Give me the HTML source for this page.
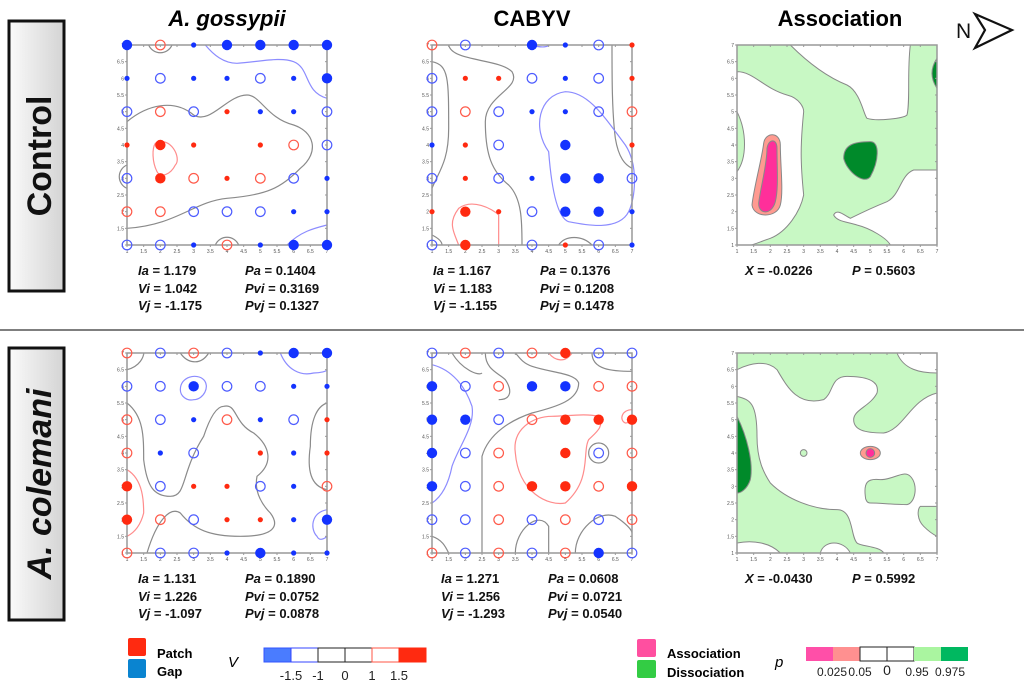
<!DOCTYPE html>
<html><head><meta charset="utf-8">
<style>
body{margin:0;background:#fff;width:1024px;height:691px;overflow:hidden;font-family:"Liberation Sans",sans-serif;}
svg{display:block}
.ct{fill:none;stroke-width:1.2;vector-effect:non-scaling-stroke}
.rg{stroke:#888;stroke-width:1;vector-effect:non-scaling-stroke}
.st{font:bold 13px "Liberation Sans",sans-serif;fill:#111}
.tk{font:5px "Liberation Sans",sans-serif;fill:#555}
</style></head><body>
<svg id="chart" width="1024" height="691" viewBox="0 0 1024 691">
<defs>
<linearGradient id="boxg" x1="0" x2="1"><stop offset="0" stop-color="#fafafa"/><stop offset="1" stop-color="#d4d4d4"/></linearGradient>
</defs>
<g>
<rect x="9" y="21" width="55" height="270" fill="url(#boxg)" stroke="#111" stroke-width="3"/>
<text transform="translate(51,156) rotate(-90)" text-anchor="middle" font-size="34" font-weight="bold" fill="#111">Control</text>
</g>
<g>
<rect x="9" y="348" width="55" height="272" fill="url(#boxg)" stroke="#111" stroke-width="3"/>
<text transform="translate(51,484) rotate(-90)" text-anchor="middle" font-size="34" font-weight="bold" font-style="italic" fill="#111">A. colemani</text>
</g>
<line x1="0" y1="330" x2="1024" y2="330" stroke="#555" stroke-width="1.5"/>
<text x="227" y="26" text-anchor="middle" font-size="22" font-weight="bold" font-style="italic">A. gossypii</text>
<text x="532" y="26" text-anchor="middle" font-size="22" font-weight="bold">CABYV</text>
<text x="840" y="26" text-anchor="middle" font-size="22" font-weight="bold">Association</text>
<g>
<text x="956" y="38" font-size="21" fill="#111">N</text>
<polygon points="975,14 1012,30 975,48 985,30" fill="#fff" stroke="#111" stroke-width="2.2" stroke-linejoin="miter"/>
</g>
<g id="panels"></g>
<g>
<text class="st" x="138" y="275"><tspan font-style="italic">Ia</tspan> = 1.179</text>
<text class="st" x="138" y="293"><tspan font-style="italic">Vi</tspan> = 1.042</text>
<text class="st" x="138" y="310"><tspan font-style="italic">Vj</tspan> = -1.175</text>
<text class="st" x="245" y="275"><tspan font-style="italic">Pa</tspan> = 0.1404</text>
<text class="st" x="245" y="293"><tspan font-style="italic">Pvi</tspan> = 0.3169</text>
<text class="st" x="245" y="310"><tspan font-style="italic">Pvj</tspan> = 0.1327</text>
</g>
<g>
<text class="st" x="433" y="275"><tspan font-style="italic">Ia</tspan> = 1.167</text>
<text class="st" x="433" y="293"><tspan font-style="italic">Vi</tspan> = 1.183</text>
<text class="st" x="433" y="310"><tspan font-style="italic">Vj</tspan> = -1.155</text>
<text class="st" x="540" y="275"><tspan font-style="italic">Pa</tspan> = 0.1376</text>
<text class="st" x="540" y="293"><tspan font-style="italic">Pvi</tspan> = 0.1208</text>
<text class="st" x="540" y="310"><tspan font-style="italic">Pvj</tspan> = 0.1478</text>
</g>
<g>
<text class="st" x="745" y="275"><tspan font-style="italic">X</tspan> = -0.0226</text>
<text class="st" x="852" y="275"><tspan font-style="italic">P</tspan> = 0.5603</text>
</g>
<g>
<text class="st" x="138" y="583"><tspan font-style="italic">Ia</tspan> = 1.131</text>
<text class="st" x="138" y="601"><tspan font-style="italic">Vi</tspan> = 1.226</text>
<text class="st" x="138" y="618"><tspan font-style="italic">Vj</tspan> = -1.097</text>
<text class="st" x="245" y="583"><tspan font-style="italic">Pa</tspan> = 0.1890</text>
<text class="st" x="245" y="601"><tspan font-style="italic">Pvi</tspan> = 0.0752</text>
<text class="st" x="245" y="618"><tspan font-style="italic">Pvj</tspan> = 0.0878</text>
</g>
<g>
<text class="st" x="441" y="583"><tspan font-style="italic">Ia</tspan> = 1.271</text>
<text class="st" x="441" y="601"><tspan font-style="italic">Vi</tspan> = 1.256</text>
<text class="st" x="441" y="618"><tspan font-style="italic">Vj</tspan> = -1.293</text>
<text class="st" x="548" y="583"><tspan font-style="italic">Pa</tspan> = 0.0608</text>
<text class="st" x="548" y="601"><tspan font-style="italic">Pvi</tspan> = 0.0721</text>
<text class="st" x="548" y="618"><tspan font-style="italic">Pvj</tspan> = 0.0540</text>
</g>
<g>
<text class="st" x="745" y="583"><tspan font-style="italic">X</tspan> = -0.0430</text>
<text class="st" x="852" y="583"><tspan font-style="italic">P</tspan> = 0.5992</text>
</g>
<g>
<rect x="128" y="638" width="18" height="18" rx="2" fill="#ff2a10"/>
<text x="157" y="658" font-size="13" font-weight="bold">Patch</text>
</g>
<g>
<rect x="128" y="659" width="18" height="19" rx="2" fill="#0a84d0"/>
<text x="157" y="676" font-size="13" font-weight="bold">Gap</text>
</g>
<text x="228" y="667" font-size="15" font-style="italic">V</text>
<g>
<rect x="264" y="648" width="27" height="14" fill="#4a7cff" stroke="#3355ff"/>
<rect x="291" y="648" width="27" height="14" fill="#fff" stroke="#3344ff"/>
<rect x="318" y="648" width="27" height="14" fill="#fff" stroke="#222"/>
<rect x="345" y="648" width="27" height="14" fill="#fff" stroke="#222"/>
<rect x="372" y="648" width="27" height="14" fill="#fff" stroke="#ff5544"/>
<rect x="399" y="648" width="27" height="14" fill="#ff2a10" stroke="#ff2a10"/>
<g font-size="13" text-anchor="middle" fill="#222">
<text x="291" y="680">-1.5</text><text x="318" y="680">-1</text><text x="345" y="680">0</text><text x="372" y="680">1</text><text x="399" y="680">1.5</text>
</g></g>
<g>
<rect x="637" y="639" width="19" height="18" rx="2" fill="#ff4fa0"/>
<text x="667" y="658" font-size="13" font-weight="bold">Association</text>
</g>
<g>
<rect x="637" y="660" width="19" height="18" rx="2" fill="#33cc44"/>
<text x="667" y="677" font-size="13" font-weight="bold">Dissociation</text>
</g>
<text x="775" y="667" font-size="15" font-style="italic">p</text>
<g>
<rect x="806" y="647" width="27" height="14" fill="#ff4fa8"/>
<rect x="833" y="647" width="27" height="14" fill="#ff9090"/>
<rect x="860" y="647" width="27" height="14" fill="#fff" stroke="#222"/>
<rect x="887" y="647" width="27" height="14" fill="#fff" stroke="#222"/>
<rect x="914" y="647" width="27" height="14" fill="#aaf5a0"/>
<rect x="941" y="647" width="27" height="14" fill="#00b860"/>
<g font-size="12" text-anchor="middle" fill="#222">
<text x="832" y="676">0.025</text><text x="860" y="676">0.05</text><text x="887" y="675" font-size="14">0</text><text x="917" y="676">0.95</text><text x="950" y="676">0.975</text>
</g></g>
</svg>
<script>
// Dot codes per grid row, top row (y=7) to bottom row (y=1), columns x=1..7
// R big red, r small red, o open red, B big blue, b small blue, c open blue, . none
const gossypiiControl = ["BobBBBB","bcbbcbB","cocrbbc","rRr.roc","cRorocb","oocccbb","ccbobBB"];
const cabyvControl = ["oc.Bbcr","crrcbcr","cocbbco","brc.B.r","crcbBBc","rRrcBBb","cR.crcb"];
const gossypiiColemani = ["ococbBB","ccBccbb","ocbobcr","obc.rbr","Rcrrcbo","RocrrbB","occbBbb"];
const cabyvColemani = ["cocoRcc","BcoBBoo","BBcoRRR","Bco.Rco","BcoRRoR","ccococo","ococoBc"];
const gridValues = [1,2,3,4,5,6,7];
const tickValues = [1,1.5,2,2.5,3,3.5,4,4.5,5,5.5,6,6.5,7];

const NS="http://www.w3.org/2000/svg";
const SIZE=200;
function el(tag,attrs,parent){const e=document.createElementNS(NS,tag);for(const k in attrs)e.setAttribute(k,attrs[k]);parent.appendChild(e);return e;}
function xScale(x0,v){return x0+(v-1)*SIZE/6;}
function yScale(y0,v){return y0+(7-v)*SIZE/6;}
const panels=document.getElementById('panels');

function frame(g,x0,y0){
  el('rect',{x:x0,y:y0,width:SIZE,height:SIZE,fill:'none',stroke:'#999','stroke-width':1.5},g);
  tickValues.forEach(t=>{
    const x=xScale(x0,t), y=yScale(y0,t);
    el('line',{x1:x,y1:y0+SIZE,x2:x,y2:y0+SIZE+2,stroke:'#999'},g);
    el('line',{x1:x,y1:y0,x2:x,y2:y0+2,stroke:'#999'},g);
    el('line',{x1:x0-2,y1:y,x2:x0,y2:y,stroke:'#999'},g);
    el('line',{x1:x0+SIZE,y1:y,x2:x0+SIZE-2,y2:y,stroke:'#999'},g);
    const tx=el('text',{x:x,y:y0+SIZE+8,'text-anchor':'middle',class:'tk'},g);tx.textContent=t;
    const ty=el('text',{x:x0-3,y:y+2,'text-anchor':'end',class:'tk'},g);ty.textContent=t;
  });
}
function contours(g,x0,y0,list){
  const c=el('g',{transform:`translate(${x0},${y0}) scale(${SIZE/6})`},g);
  list.forEach(([col,d,fill])=>{
    const p=el('path',{d:d,class:'ct',stroke:col,fill:fill||'none'},c);
    
    
  });
}
function dots(g,x0,y0,rows){
  rows.forEach((row,ri)=>{
    const yv=gridValues[gridValues.length-1-ri];
    row.split('').forEach((ch,ci)=>{
      const xv=gridValues[ci];
      const cx=xScale(x0,xv), cy=yScale(y0,yv);
      let c;
      if(ch==='R') c=el('circle',{cx,cy,r:5.2,fill:'#ff2a10'},g);
      else if(ch==='r') c=el('circle',{cx,cy,r:2.6,fill:'#ff2a10'},g);
      else if(ch==='o') c=el('circle',{cx,cy,r:4.8,fill:'none',stroke:'#ff5a4a','stroke-width':1.2},g);
      else if(ch==='B') c=el('circle',{cx,cy,r:5.2,fill:'#1433ff'},g);
      else if(ch==='b') c=el('circle',{cx,cy,r:2.6,fill:'#1433ff'},g);
      else if(ch==='c') c=el('circle',{cx,cy,r:4.8,fill:'none',stroke:'#4d5cff','stroke-width':1.2},g);
      else return;
      
      
    });
  });
}
const G='#8a8a8a',BL='#8c8cff',RD='#ff8c8c';
function panel(name,x0,y0,rows,cl){
  const g=el('g',{},panels);
  
  
  contours(g,x0,y0,cl);
  frame(g,x0,y0);
  dots(g,x0,y0,rows);
}
panel('panel-control-gossypii',127,45,gossypiiControl,[
 [G,'M0,2.3 C0.6,1.8 1.4,1.6 2,2.1 C2.5,2.4 3,1.5 3.6,1.5 C4,1.5 4.2,2.2 5,2.4 C5.6,2.6 5.8,3.2 5.2,3.7 C4.6,4.3 4.2,4.5 3,4.6 C2,4.7 1.5,5.4 0,5.5'],
 [BL,'M2.35,0 C2.6,0.3 2.9,0.55 3.3,0.55 C4,0.5 4.6,0.35 5,0.5 C5.5,0.7 5.3,1.4 6,1.6'],
 [BL,'M4.8,6 C5.2,5.6 5.6,5.5 6,5.4'],
 [RD,'M0.85,2.95 C1.3,2.7 1.65,3.4 1.45,3.6 C1.3,3.9 1,4 0.9,3.8 C0.75,3.5 0.75,3.1 0.85,2.95 Z'],
 [G,'M0.65,0 A0.38,0.38 0 0 0 1.35,0'],
 [G,'M2.65,6 A0.38,0.38 0 0 1 3.35,6'],
 [G,'M0,3.6 A0.38,0.38 0 0 0 0,4.3']
]);
panel('panel-control-cabyv',432,45,cabyvControl,[
 [G,'M0,0.5 C0.5,0.6 0.5,1 0.5,2.5 C0.5,3.5 0.2,3.8 0,4.3'],
 [G,'M0.5,0 C0.6,0.5 2,0.4 2.4,0.8 C2.7,1.3 1.6,1.5 1.6,2.3 C1.6,3.3 1.8,3.8 2.3,4.2 C2.7,4.6 2.7,5.3 2.7,6'],
 [G,'M5.4,0 C5.4,1 5.4,2 5.5,2.8 C5.6,3.4 5.8,3.6 6,3.7'],
 [G,'M0,5.7 C0.2,5.8 0.3,5.9 0.3,6'],
 [G,'M3.8,6 C4,5.7 4.5,5.7 4.8,6'],
 [BL,'M3.5,3.2 C3,2.5 3.2,1.5 4,1.4 C4.7,1.4 5.2,2.2 5.8,3 C6.2,3.6 6.1,4.6 5.9,5 C5.6,5.6 4.6,5.4 4.1,5.3 C3.8,5.2 3.6,4.5 3.5,3.2 Z'],
 [BL,'M3,0 C3.3,0.1 3.5,0.05 3.5,0'],
 [RD,'M0.8,6 C0.6,5.5 0.5,5.3 0.8,4.9 C1.2,4.6 1.8,4.9 2,5.1 C2,5.5 2,5.8 2,6']
]);
panel('panel-colemani-gossypii',127,353,gossypiiColemani,[
 [G,'M0,1.5 C0.5,1.9 0.5,2.5 0.5,3.2 C0.6,4 0.8,4.3 1.3,4.3 C1.8,4.3 1.6,3.6 2.3,2.5 C2.5,1.9 2.7,1.6 2.9,1.6 C3.3,1.5 3.2,2.1 3.8,2.4 C4.3,2.8 4.4,3.3 3.9,3.7 C3.8,4.2 4.1,4.6 4.3,4.8 C4.6,5.2 4.4,5.5 3.4,5.5 C2.5,5.5 2,5.3 1.6,4.8 C1.3,4.6 0.9,5 0.6,6'],
 [G,'M0,0.5 C0.4,0.4 0.5,0.1 0.5,0'],
 [G,'M1.6,0 C1.8,0.3 2.2,0.4 2.45,0'],
 [G,'M6,4.1 C5.5,4 5.4,3.5 5.5,2.8 C5.5,2 5.7,1.6 6,1.5'],
 [BL,'M4.6,0 C4.8,0.5 5.2,0.7 5.6,0.6 C5.8,0.6 6,0.55 6,0.5'],
 [BL,'M1.6,1.1 C1.6,0.7 2.1,0.6 2.3,0.8 C2.5,1 2.3,1.4 2,1.4 C1.8,1.45 1.6,1.3 1.6,1.1 Z'],
 [BL,'M6,4.7 C5.5,4.8 5.5,5.3 5.7,5.5 C5.8,5.7 6,5.5 6,5.5'],
 [RD,'M0,3.5 C0.5,3.8 0.5,4.5 0.5,4.8 C0.4,5.2 0.2,5.4 0,5.5']
]);
panel('panel-colemani-cabyv',432,353,cabyvColemani,[
 [BL,'M0,0.35 C0.6,0.5 1,1 1.2,1.6 C1.3,2.2 0.8,2.8 0.6,3.4 C0.5,3.9 0.3,4.3 0,4.5'],
 [G,'M0.6,0 C0.9,0.5 1.4,0.7 1.5,0.6'],
 [G,'M1.6,0 C1.6,0.5 2,0.6 2.2,0.8 C2.4,1.1 2.4,1.4 2,1.4'],
 [G,'M1.5,6 L1.5,3.1 C1.7,2.4 2.4,2 3,1.8 C3.8,1.6 4.4,1.4 4.4,0.9 C4.3,0.6 3.6,0.6 3,0.4 C2.7,0.3 2.6,0.1 2.5,0'],
 [G,'M4.8,0 C4.8,0.5 5.4,0.55 6,0.55'],
 [RD,'M2.5,3 C2.4,2.3 3,1.9 3.6,1.9 C4,1.9 4.6,1.8 5,1.9 C5.2,2.2 4.9,2.4 4.7,2.6 C4.5,3 4.8,3.8 4,4.5 C3.5,4.6 2.6,4.2 2.5,3 Z'],
 [RD,'M3.5,0 C3.7,0.25 4,0.3 4.2,0'],
 [RD,'M6,1.7 C5.7,1.7 5.6,2 5.8,2.1 C5.9,2.1 6,2 6,2'],
 [G,'M4.7,3 A0.3,0.3 0 1 0 5.3,3 A0.3,0.3 0 1 0 4.7,3'],
 [G,'M2.5,6 C2.5,5.3 3.2,4.7 3.5,5.2 C3.5,5.5 3.5,5.8 3.5,6'],
 [G,'M4.3,6 C4.3,5.3 5,4.7 5.5,4.9 C5.8,5.1 6,5.3 6,5.4'],
 [G,'M0,5.5 C0.3,5.6 0.4,5.8 0.5,6']
]);
function assoc(name,x0,y0,bg,regions){
  const g=el('g',{},panels);
  
  
  el('rect',{x:x0,y:y0,width:SIZE,height:SIZE,fill:bg},g);
  const c=el('g',{transform:`translate(${x0},${y0}) scale(${SIZE/6})`},g);
  regions.forEach(([fill,d])=>{
    const p=el('path',{d:d,fill:fill,class:'rg'},c);
    
    
  });
  frame(g,x0,y0);
}
const LG='#c8f8c4',DG='#008a2a',SA='#ff9a90',MG='#ff2f9a',W='#fff';
assoc('panel-control-association',737,45,LG,[
 [W,'M0,0.8 C0.5,0.8 0.8,1.3 1.5,1.5 C1.9,1.6 2,1.9 2,2 C1.9,3 1.9,3.5 2,4.5 C1.9,5 1.5,5.6 1,5.8 C0.7,5.9 0.5,6 0.4,6 L0,6 L0,3.8 C0.3,3.4 0.3,2.6 0,2 Z'],
 [W,'M1.6,0 C2.2,0.6 2.8,1 3.3,1.2 C3.7,1.4 3.8,2.1 3.9,2.2 C4.2,2.3 5,2.2 5.1,2.1 C5.2,1.7 5.1,0.8 5.2,0 Z'],
 [W,'M6,3.75 L5.3,3.75 C4.9,3.9 4.9,4.5 4.5,4.7 C4,4.9 3.6,5.1 3.4,5.2 C3.2,5.1 3,4.9 2.9,5.1 C3,5.3 3.3,5.3 3.6,5.4 C4,5.5 4.5,5.8 4.6,6 L6,6 Z'],
 [DG,'M3.2,3.4 C3.2,3 3.5,2.9 4,2.9 C4.3,2.9 4.25,3.5 4,3.95 C3.8,4.2 3.3,3.8 3.2,3.4 Z'],
 [DG,'M6,0.4 C5.8,0.7 5.8,1 6,1.3 Z'],
 [SA,'M0.45,4.8 C0.5,4.3 0.75,3.4 0.8,2.95 C0.85,2.6 1.3,2.6 1.3,3 C1.3,3.6 1.4,4.4 1.3,4.8 C1.2,5.2 0.5,5.2 0.45,4.8 Z'],
 [MG,'M0.65,4.75 C0.7,4.3 0.9,3.6 0.9,3.1 C0.95,2.8 1.2,2.8 1.2,3.1 C1.2,3.7 1.25,4.3 1.15,4.7 C1.05,5.1 0.65,5.1 0.65,4.75 Z']
]);
assoc('panel-colemani-association',737,353,W,[
 [LG,'M0,0.5 C0.4,0.3 0.9,0.2 1.2,0.5 C1.5,1 1.8,1.6 2.6,1.4 C2.9,1.2 2.8,0.7 3.3,0.7 C3.8,0.7 4.3,0.8 4.2,1.2 C4,1.6 3.5,1.7 3.5,2 C3.5,2.3 3.8,2.4 4.4,2.4 C5,2.3 5.2,1.4 6,1.2 L6,0.6 C5.5,0.6 5,0.5 4.8,0 L0,0 Z'],
 [LG,'M0,1.3 C0.4,1.4 0.6,1.5 0.6,2.5 C0.6,3.2 0.8,3.6 1,3.9 C1.5,4.4 2.3,4.7 3,4.7 C3.5,4.7 3.4,5.5 3.6,5.7 C3.7,5.8 4.3,5.8 4.4,6 L3.4,6 C3.2,5.6 2.6,5.6 2.5,6 L1.3,6 C1,5.7 0.5,5.6 0,5.7 Z'],
 [DG,'M0,1.9 C0.3,2.5 0.5,3.3 0.4,3.8 C0.3,4.1 0.1,4.2 0,4.2 Z'],
 [LG,'M3.85,4.3 C3.8,3.9 3.9,3.75 4.3,3.8 C4.7,3.8 5,3.5 5.2,3.7 C5.45,3.95 5.35,4.5 5.1,4.55 C4.7,4.55 4.3,4.5 4,4.5 C3.9,4.5 3.85,4.4 3.85,4.3 Z'],
 [LG,'M6,4.6 L5.5,4.6 C5.4,4.7 5.4,5 5.6,5.2 C5.8,5.4 6,5.5 6,5.5 Z'],
 [LG,'M1.9,3 A0.1,0.1 0 1 0 2.1,3 A0.1,0.1 0 1 0 1.9,3'],
 [SA,'M3.7,3 A0.3,0.2 0 1 0 4.3,3 A0.3,0.2 0 1 0 3.7,3'],
 [MG,'M3.87,3 A0.13,0.13 0 1 0 4.13,3 A0.13,0.13 0 1 0 3.87,3']
]);
</script>
</body></html>
